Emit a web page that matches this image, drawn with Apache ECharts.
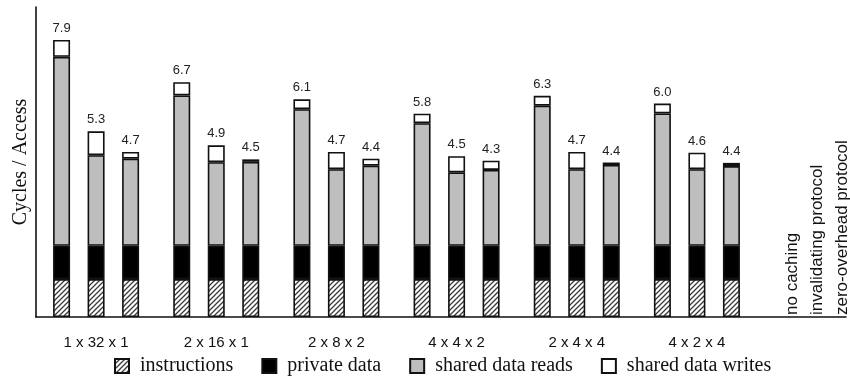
<!DOCTYPE html>
<html>
<head>
<meta charset="utf-8">
<script src="https://cdn.jsdelivr.net/npm/echarts@6/dist/echarts.min.js"></script>
<style>html,body{margin:0;padding:0;background:#fff}#c{width:850px;height:392px}</style>
</head>
<body>
<div id="c"></div>
<script>
const groups = ['1 x 32 x 1', '2 x 16 x 1', '2 x 8 x 2', '4 x 4 x 2', '2 x 4 x 4', '4 x 2 x 4'];
const protocols = ['no caching', 'invalidating protocol', 'zero-overhead protocol'];
const componentNames = ['instructions', 'private data', 'shared data reads', 'shared data writes'];

// rows: no caching, invalidating protocol, zero-overhead protocol; columns: groups
const instructions = [
  [1.08, 1.08, 1.08, 1.08, 1.08, 1.08],
  [1.08, 1.08, 1.08, 1.08, 1.08, 1.08],
  [1.08, 1.08, 1.08, 1.08, 1.08, 1.08]
];
const privateData = [
  [0.95, 0.95, 0.95, 0.95, 0.95, 0.95],
  [0.95, 0.95, 0.95, 0.95, 0.95, 0.95],
  [0.95, 0.95, 0.95, 0.95, 0.95, 0.95]
];
const sharedReads = [
  [5.38, 4.28, 3.89, 3.49, 3.99, 3.77],
  [2.58, 2.38, 2.18, 2.09, 2.18, 2.18],
  [2.48, 2.39, 2.28, 2.16, 2.30, 2.27]
];
const sharedWrites = [
  [0.48, 0.38, 0.28, 0.27, 0.28, 0.28],
  [0.68, 0.48, 0.49, 0.46, 0.49, 0.47],
  [0.19, 0.07, 0.20, 0.26, 0.07, 0.09]
];
const totalLabels = [
  ['7.9', '6.7', '6.1', '5.8', '6.3', '6.0'],
  ['5.3', '4.9', '4.7', '4.5', '4.7', '4.6'],
  ['4.7', '4.5', '4.4', '4.3', '4.4', '4.4']
];

// hatch pattern
const pc = document.createElement('canvas');
pc.width = 5; pc.height = 5;
const g = pc.getContext('2d');
g.fillStyle = '#fff'; g.fillRect(0, 0, 5, 5);
g.strokeStyle = '#3a3a3a'; g.lineWidth = 1.3;
g.beginPath();
g.moveTo(-1, 6); g.lineTo(6, -1);
g.moveTo(-1, 1); g.lineTo(1, -1);
g.moveTo(4, 6); g.lineTo(6, 4);
g.stroke();
const hatch = { image: pc, repeat: 'repeat' };

const fills = [hatch, '#000', '#bebebe', '#fff'];
const compData = [instructions, privateData, sharedReads, sharedWrites];

const series = [];
for (let p = 0; p < 3; p++) {
  for (let c = 0; c < 4; c++) {
    const s = {
      type: 'bar',
      name: componentNames[c],
      stack: 'p' + p,
      xAxisIndex: 0,
      yAxisIndex: 0,
      data: compData[c][p],
      barWidth: 17,
      barGap: '103%',
      itemStyle: { color: fills[c], borderColor: '#111', borderWidth: 1.6 },
      emphasis: { disabled: true }
    };
    if (c === 3) {
      s.label = {
        show: true,
        position: 'top',
        distance: 5,
        fontFamily: '"Liberation Sans", Arial, sans-serif',
        fontSize: 13,
        color: '#222',
        formatter: (function (pp) { return function (params) { return totalLabels[pp][params.dataIndex]; }; })(p)
      };
    }
    series.push(s);
  }
}
// full-width baseline axis
series.push({ type: 'line', xAxisIndex: 1, yAxisIndex: 1, data: [], silent: true });

const chart = echarts.init(document.getElementById('c'), null, { renderer: 'canvas' });
chart.setOption({
  animation: false,
  backgroundColor: '#fff',
  grid: [
    { left: 36, top: 7, width: 721, height: 310 },
    { left: 36, top: 7, right: 4, height: 310 }
  ],
  xAxis: [
    {
      type: 'category', gridIndex: 0, data: groups,
      axisLine: { show: false }, axisTick: { show: false },
      axisLabel: { margin: 18, fontFamily: '"Liberation Sans", Arial, sans-serif', fontSize: 15, color: '#111' }
    },
    {
      type: 'value', gridIndex: 1, min: 0, max: 1,
      axisLine: { show: true, onZero: false, lineStyle: { color: '#111', width: 1.6 } },
      axisTick: { show: false }, axisLabel: { show: false }, splitLine: { show: false }
    }
  ],
  yAxis: [
    {
      type: 'value', gridIndex: 0, min: 0, max: 8.83,
      name: 'Cycles / Access', nameLocation: 'middle', nameGap: 5,
      nameTextStyle: { fontFamily: '"Liberation Serif", "Times New Roman", serif', fontSize: 20, color: '#111' },
      axisLine: { show: true, lineStyle: { color: '#111', width: 1.6 } },
      axisTick: { show: false }, axisLabel: { show: false }, splitLine: { show: false }
    },
    {
      type: 'value', gridIndex: 1, min: 0, max: 1, show: false
    }
  ],
  legend: {
    data: componentNames,
    left: 109, top: 351,
    itemWidth: 14, itemHeight: 14, itemGap: 28,
    icon: 'rect',
    textStyle: { fontFamily: '"Liberation Serif", "Times New Roman", serif', fontSize: 20, color: '#111', padding: [0, 0, 0, 6] },
    selectedMode: false
  },
  graphic: protocols.map(function (t, i) {
    return {
      type: 'text',
      x: 792 + i * 25, y: 315,
      rotation: Math.PI / 2,
      style: { text: t, font: '17px "Liberation Sans", Arial, sans-serif', fill: '#111', align: 'left', verticalAlign: 'middle' }
    };
  }),
  series: series
});
</script>
</body>
</html>
